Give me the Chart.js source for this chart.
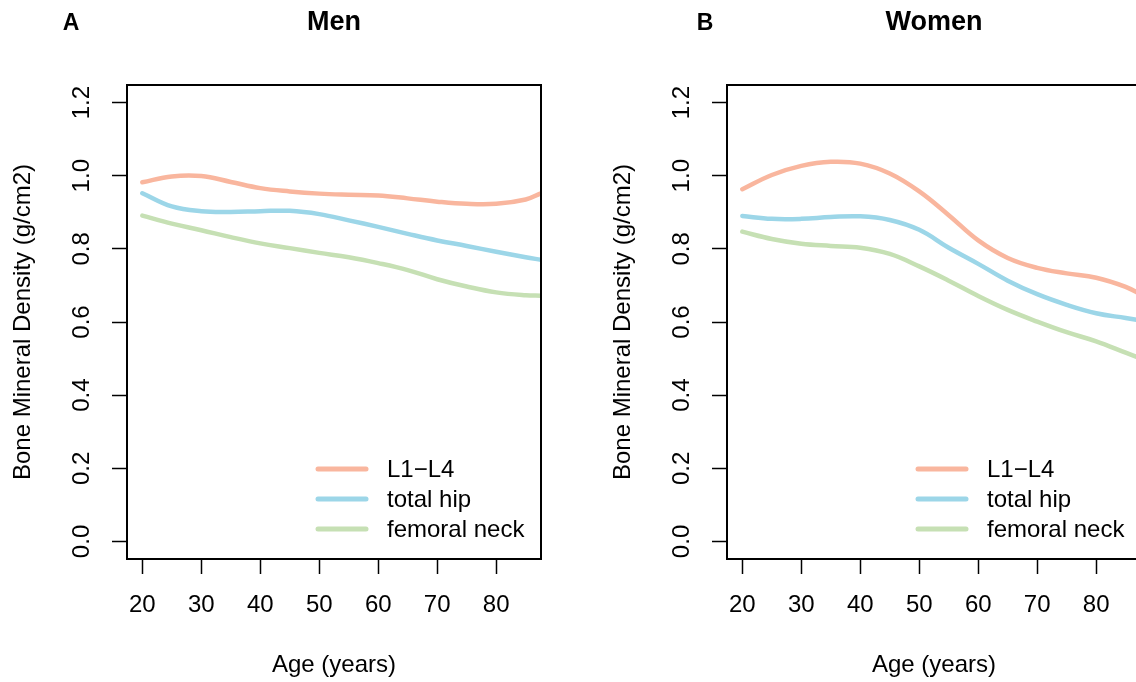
<!DOCTYPE html>
<html><head><meta charset="utf-8">
<script src="https://cdn.jsdelivr.net/npm/chart.js@4"></script>
<style>
html,body{margin:0;padding:0;background:#fff;overflow:hidden;width:1136px;height:682px;position:relative;}
.panel{position:absolute;top:0;width:568px;height:682px;}
#p1{left:0}
#p2{left:600px}
</style></head><body>
<div class="panel" id="p1"><canvas id="c1" width="568" height="682"></canvas></div>
<div class="panel" id="p2"><canvas id="c2" width="568" height="682"></canvas></div>
<script>
// ---- data ----
const ages = [20, 25, 30, 35, 40, 45, 50, 55, 60, 65, 70, 75, 80, 85, 87.6];
const menL1L4   = [0.982, 0.998, 0.999, 0.983, 0.966, 0.957, 0.951, 0.948, 0.946, 0.938, 0.929, 0.923, 0.923, 0.935, 0.952];
const menHip    = [0.952, 0.916, 0.903, 0.901, 0.903, 0.904, 0.895, 0.878, 0.860, 0.841, 0.823, 0.808, 0.792, 0.777, 0.770];
const menNeck   = [0.891, 0.869, 0.851, 0.832, 0.815, 0.802, 0.789, 0.777, 0.761, 0.742, 0.717, 0.697, 0.681, 0.673, 0.672];
const womenL1L4 = [0.963, 1.002, 1.027, 1.038, 1.033, 1.006, 0.957, 0.892, 0.823, 0.775, 0.748, 0.733, 0.721, 0.696, 0.675];
const womenHip  = [0.890, 0.882, 0.882, 0.887, 0.889, 0.879, 0.852, 0.803, 0.759, 0.713, 0.676, 0.647, 0.624, 0.611, 0.604];
const womenNeck = [0.847, 0.827, 0.814, 0.808, 0.803, 0.786, 0.752, 0.713, 0.671, 0.633, 0.601, 0.572, 0.547, 0.516, 0.500];
const seriesNames = ['L1\u2212L4', 'total hip', 'femoral neck'];
const seriesColors = ['#F9B69E', '#9CD6E8', '#C6E0B4'];
const xTicks = [20, 30, 40, 50, 60, 70, 80];
const yTicks = [0.0, 0.2, 0.4, 0.6, 0.8, 1.0, 1.2];
const xRange = [17.4, 87.6];
const yRange = [-0.048, 1.248];
const xTitle = 'Age (years)';
const yTitle = 'Bone Mineral Density (g/cm2)';

const FONT = "'Liberation Sans', Arial, Helvetica, sans-serif";
Chart.defaults.font.family = FONT;
Chart.defaults.color = '#000';

const boxPlugin = {
  id: 'rbox',
  afterDatasetsDraw(chart) {
    const {ctx, chartArea: a} = chart;
    ctx.save();
    ctx.strokeStyle = '#000';
    ctx.lineWidth = 2;
    ctx.strokeRect(a.left, a.top, a.right - a.left, a.bottom - a.top);
    ctx.restore();
  }
};

const legendPlugin = {
  id: 'rlegend',
  afterDatasetsDraw(chart) {
    const {ctx, chartArea: a} = chart;
    ctx.save();
    ctx.font = '24px ' + FONT;
    ctx.textBaseline = 'middle';
    ctx.textAlign = 'left';
    chart.data.datasets.forEach((ds, i) => {
      const y = a.bottom - 90 + i * 30;
      ctx.strokeStyle = ds.borderColor;
      ctx.lineWidth = 5;
      ctx.lineCap = 'round';
      ctx.beginPath();
      ctx.moveTo(a.right - 223, y);
      ctx.lineTo(a.right - 175, y);
      ctx.stroke();
      ctx.fillStyle = '#000';
      ctx.fillText(ds.label, a.right - 154, y + 1);
    });
    ctx.restore();
  }
};

const letterPlugin = {
  id: 'rletter',
  afterDraw(chart, args, opts) {
    const {ctx} = chart;
    ctx.save();
    ctx.font = 'bold 23px ' + FONT;
    ctx.textAlign = 'center';
    ctx.textBaseline = 'alphabetic';
    ctx.fillStyle = '#000';
    ctx.fillText(opts.text, opts.x, 30);
    ctx.restore();
  }
};

function makeChart(id, title, letter, letterX, vals) {
  return new Chart(document.getElementById(id), {
    type: 'line',
    data: {
      datasets: vals.map((v, i) => ({
        label: seriesNames[i],
        data: ages.map((a, j) => ({x: a, y: v[j]})),
        borderColor: seriesColors[i],
        borderWidth: 4.5,
        borderCapStyle: 'round',
        pointRadius: 0,
        fill: false,
        tension: 0.4
      }))
    },
    options: {
      responsive: false,
      animation: false,
      layout: {padding: {left: 0, right: 27, top: 0, bottom: 0}},
      plugins: {
        legend: {display: false},
        tooltip: {enabled: false},
        title: {
          display: true, text: title, fullSize: false,
          font: {size: 27, weight: 'bold', lineHeight: 1.2},
          padding: {top: 6, bottom: 46.6}, color: '#000'
        },
        rletter: {text: letter, x: letterX}
      },
      scales: {
        x: {
          type: 'linear', min: xRange[0], max: xRange[1],
          afterBuildTicks: s => { s.ticks = xTicks.map(v => ({value: v})); },
          afterFit: s => { s.height = 123; },
          grid: {display: true, drawOnChartArea: false, drawTicks: true, tickLength: 15, tickWidth: 1.5, tickColor: '#000'},
          border: {display: false},
          ticks: {font: {size: 24}, color: '#000', padding: 17, maxRotation: 0, autoSkip: false, callback: v => String(v)},
          title: {display: true, text: xTitle, font: {size: 24}, color: '#000', padding: {top: 0, bottom: 2.6}}
        },
        y: {
          type: 'linear', min: yRange[0], max: yRange[1],
          afterBuildTicks: s => { s.ticks = yTicks.map(v => ({value: v})); },
          afterFit: s => { s.width = 127; },
          grid: {display: true, drawOnChartArea: false, drawTicks: true, tickLength: 15, tickWidth: 1.5, tickColor: '#000'},
          border: {display: false},
          ticks: {font: {size: 24}, color: '#000', padding: 12.6, minRotation: 90, maxRotation: 90, crossAlign: 'center', autoSkip: false, callback: v => v.toFixed(1)},
          title: {display: true, text: yTitle, font: {size: 24}, color: '#000', padding: {top: 8.6, bottom: 0}}
        }
      }
    },
    plugins: [boxPlugin, legendPlugin, letterPlugin]
  });
}

makeChart('c1', 'Men', 'A', 71, [menL1L4, menHip, menNeck]);
makeChart('c2', 'Women', 'B', 105, [womenL1L4, womenHip, womenNeck]);
</script>
</body></html>
